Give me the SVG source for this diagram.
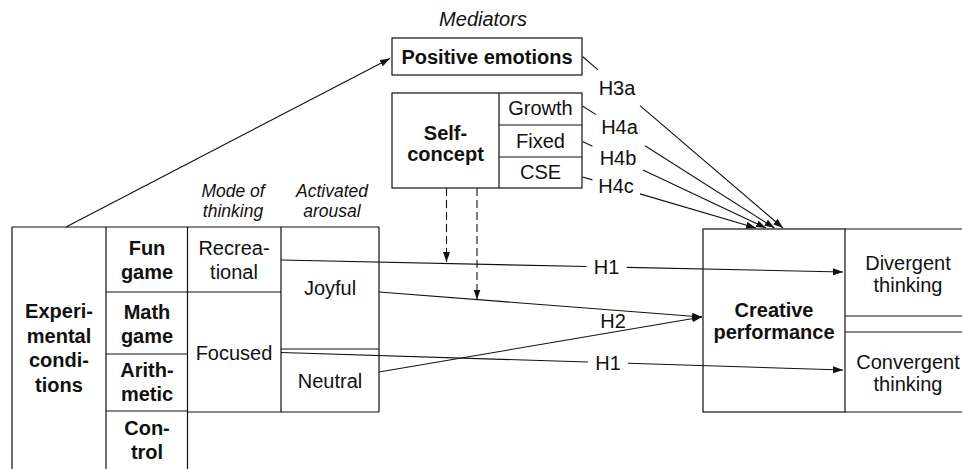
<svg xmlns="http://www.w3.org/2000/svg" width="962" height="469" viewBox="0 0 962 469">
<defs>
<style>
.bx{fill:none;stroke:#111;stroke-width:1.2}
.ln{fill:none;stroke:#111;stroke-width:1.1}
.ar{marker-end:url(#ah)}
.ds{stroke-dasharray:8 4}
text{font-family:"Liberation Sans",Arial,Helvetica,sans-serif;fill:#111;text-anchor:middle}
.t{font-size:20px}
.b{font-size:20px;font-weight:bold}
.i{font-size:20px;font-style:italic}
.ih{font-size:17.5px;font-style:italic}
</style>
<marker id="ah" markerUnits="userSpaceOnUse" markerWidth="11" markerHeight="8" refX="10" refY="3.5" orient="auto">
<path d="M0,0 L10,3.5 L0,7 Z" fill="#111"/>
</marker>
</defs>
<rect width="962" height="469" fill="#fff"/>

<g id="mediators-label">
<text class="i" x="483" y="26">Mediators</text>
</g>

<g id="positive-emotions">
<rect class="bx" x="392" y="38" width="190" height="37"/>
<text class="b" x="487" y="64">Positive emotions</text>
</g>

<g id="self-concept">
<rect class="bx" x="392" y="93" width="190" height="95"/>
<path class="bx" d="M499,93 V188 M499,125 H582 M499,157 H582"/>
<text class="b" x="445.5" y="140">Self-</text>
<text class="b" x="445.5" y="161">concept</text>
<text class="t" x="540.5" y="115">Growth</text>
<text class="t" x="540.5" y="147.5">Fixed</text>
<text class="t" x="540.5" y="179">CSE</text>
</g>

<g id="experimental-conditions">
<path class="bx" d="M12,227 H379 M12,227 V469 M106,227 V469 M187.5,227 V469 M106,292 H187.5 M106,354 H187.5 M106,411 H187.5"/>
<text class="b" x="59" y="318">Experi-</text>
<text class="b" x="59" y="342.5">mental</text>
<text class="b" x="59" y="367">condi-</text>
<text class="b" x="59" y="391.5">tions</text>
<text class="b" x="147" y="254.5">Fun</text>
<text class="b" x="147" y="278.5">game</text>
<text class="b" x="147" y="318.5">Math</text>
<text class="b" x="147" y="342.5">game</text>
<text class="b" x="147" y="377">Arith-</text>
<text class="b" x="147" y="401">metic</text>
<text class="b" x="147" y="434.5">Con-</text>
<text class="b" x="147" y="459">trol</text>
</g>

<g id="mode-of-thinking">
<path class="bx" d="M281,227 V412 M187.5,292 H281 M187.5,412 H281"/>
<text class="ih" x="233" y="196.5">Mode of</text>
<text class="ih" x="233" y="216.5">thinking</text>
<text class="t" x="234" y="255">Recrea-</text>
<text class="t" x="234" y="279">tional</text>
<text class="t" x="234" y="359.5">Focused</text>
</g>

<g id="activated-arousal">
<path class="bx" d="M379,227 V412 M281,349 H379 M281,412 H379"/>
<text class="ih" x="332" y="196.5">Activated</text>
<text class="ih" x="332" y="216.5">arousal</text>
<text class="t" x="330" y="295">Joyful</text>
<text class="t" x="330" y="387.5">Neutral</text>
</g>

<g id="creative-performance">
<rect class="bx" x="703" y="229" width="142" height="183"/>
<path class="bx" d="M845,229 H962 M845,316 H962 M845,332 H962 M845,412 H962"/>
<text class="b" x="774" y="316.5">Creative</text>
<text class="b" x="774" y="339">performance</text>
<text class="t" x="908" y="269.5">Divergent</text>
<text class="t" x="908" y="291.5">thinking</text>
<text class="t" x="908" y="368.5">Convergent</text>
<text class="t" x="908" y="390.5">thinking</text>
</g>

<g id="connectors">
<path class="ln ar" d="M66,227 L390,58.5"/>
<path class="ln" d="M582.5,56.5 L598,69.8"/>
<path class="ln ar" d="M640,105.7 L783,228"/>
<path class="ln" d="M582.5,106 L596,114.6"/>
<path class="ln ar" d="M645,145.7 L774.5,228"/>
<path class="ln" d="M582.5,141.5 L592.5,146.2"/>
<path class="ln ar" d="M643,170 L766,228"/>
<path class="ln" d="M582.5,177 L592.5,179.9"/>
<path class="ln ar" d="M640,193.9 L756,228"/>
<path class="ln" d="M281,260 L586.7,266.5"/>
<path class="ln ar" d="M626.7,267.4 L843,272"/>
<path class="ln" d="M281,352.5 L588,362"/>
<path class="ln ar" d="M628,363.3 L843,370"/>
<path class="ln ar" d="M379,292 L702,317"/>
<path class="ln ar" d="M379,372 L702,317"/>
<path class="ln ds ar" d="M446.5,188 V262"/>
<path class="ln ds ar" d="M477,188 V299.5"/>
<text class="t" x="617" y="95">H3a</text>
<text class="t" x="619.5" y="134">H4a</text>
<text class="t" x="618" y="165">H4b</text>
<text class="t" x="616" y="192.5">H4c</text>
<text class="t" x="606.5" y="273.5">H1</text>
<text class="t" x="613" y="328">H2</text>
<text class="t" x="608" y="370">H1</text>
</g>
</svg>
